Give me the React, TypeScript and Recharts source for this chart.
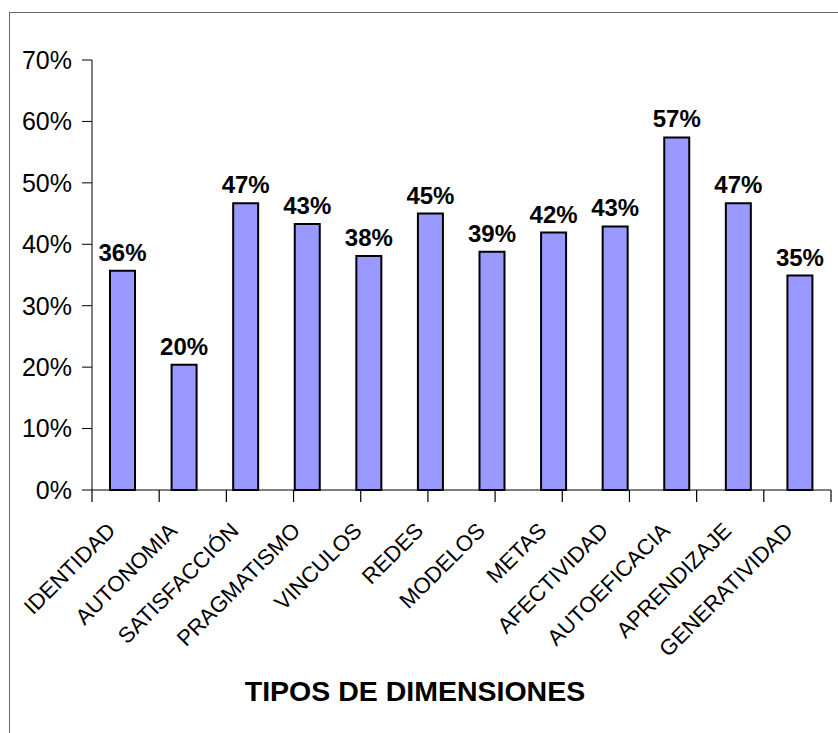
import React from "react";
import { BarChart, Bar, XAxis, YAxis, LabelList } from "recharts";

const categories = [
  "IDENTIDAD",
  "AUTONOMIA",
  "SATISFACCIÓN",
  "PRAGMATISMO",
  "VINCULOS",
  "REDES",
  "MODELOS",
  "METAS",
  "AFECTIVIDAD",
  "AUTOEFICACIA",
  "APRENDIZAJE",
  "GENERATIVIDAD",
];
const values = [0.357, 0.204, 0.467, 0.433, 0.381, 0.45, 0.388, 0.419, 0.429, 0.574, 0.467, 0.349];
const yTicks = [0, 0.1, 0.2, 0.3, 0.4, 0.5, 0.6, 0.7];
// category boundaries, for the tick marks between bars
const boundaries = categories.map((_, i) => i).concat(categories.length);

const data = categories.map((name, i) => ({ name, value: values[i] }));

const W = 838;
const H = 733;
const LEFT = 92;
const RIGHT = 7;
const TOP = 60;
const XAXIS_H = 243;
const FONT = "'Liberation Sans', Arial, sans-serif";

const pct = (v: number) => `${Math.round(v * 100)}%`;

// tick sits on a category boundary; the label goes to the middle of the category that follows it
const XTick = (props: any) => {
  const { payload } = props;
  const i = Number(payload.value);
  const name = categories[i];
  if (!name) return <g />;
  const step = (W - LEFT - RIGHT) / categories.length;
  const cx = LEFT + (i + 0.5) * step;
  const axisY = H - XAXIS_H;
  return (
    <text
      x={0}
      y={0}
      transform={`translate(${cx - 6},${axisY + 42}) rotate(-45)`}
      textAnchor="end"
      fontSize={22}
      fontFamily={FONT}
      fill="#000"
    >
      {name}
    </text>
  );
};

export default function App() {
  return (
    <div style={{ position: "absolute", left: 0, top: 0, width: W, height: H, overflow: "hidden", background: "#fff" }}>
      <div
        style={{
          position: "absolute",
          left: 9,
          top: 12,
          width: 900,
          height: 800,
          border: "1px solid #666",
        }}
      />
      <div style={{ position: "absolute", left: 0, top: 0 }}>
        <BarChart
          width={W}
          height={H}
          data={data}
          margin={{ top: TOP, right: RIGHT, left: 0, bottom: 0 }}
          barCategoryGap={0}
        >
          <YAxis
            width={LEFT}
            domain={[0, 0.7]}
            ticks={yTicks}
            tickFormatter={pct}
            tickSize={10}
            tickMargin={10}
            axisLine={{ stroke: "#000" }}
            tickLine={{ stroke: "#000" }}
            tick={{ fill: "#000", fontSize: 25, fontFamily: FONT }}
          />
          <XAxis xAxisId="cat" dataKey="name" hide height={0} />
          <XAxis
            xAxisId="marks"
            type="number"
            domain={[0, categories.length]}
            ticks={boundaries}
            interval={0}
            allowDataOverflow
            height={XAXIS_H}
            tickSize={12}
            tickMargin={0}
            axisLine={{ stroke: "#000" }}
            tickLine={{ stroke: "#000", strokeWidth: 1.2 }}
            tick={<XTick />}
          />
          <Bar
            xAxisId="cat"
            dataKey="value"
            fill="#9999ff"
            stroke="#000"
            strokeWidth={2}
            barSize={25}
            isAnimationActive={false}
          >
            <LabelList
              dataKey="value"
              position="top"
              offset={10}
              formatter={(v: any) => pct(Number(v))}
              style={{ fontSize: 24, fontWeight: "bold", fontFamily: FONT, fill: "#000" }}
            />
          </Bar>
        </BarChart>
      </div>
      <div
        style={{
          position: "absolute",
          left: 215,
          width: 400,
          top: 675,
          textAlign: "center",
          fontFamily: FONT,
          fontWeight: "bold",
          fontSize: 28.5,
          color: "#000",
        }}
      >
        TIPOS DE DIMENSIONES
      </div>
    </div>
  );
}
